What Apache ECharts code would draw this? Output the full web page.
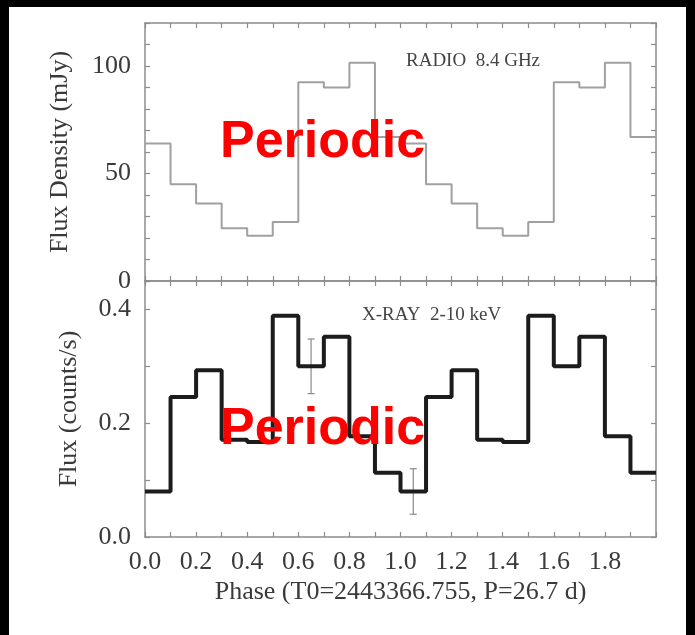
<!DOCTYPE html>
<html>
<head>
<meta charset="utf-8">
<script src="https://cdn.jsdelivr.net/npm/echarts@6/dist/echarts.min.js"></script>
<style>
  html, body { margin: 0; padding: 0; background: #000; }
  #chart { width: 695px; height: 635px; }
</style>
</head>
<body>
<div id="chart"></div>
<script>
// Phase bins (start of each 0.1-wide bin), two cycles
const phaseBins = [0.0, 0.1, 0.2, 0.3, 0.4, 0.5, 0.6, 0.7, 0.8, 0.9,
                   1.0, 1.1, 1.2, 1.3, 1.4, 1.5, 1.6, 1.7, 1.8, 1.9];
const phaseEnd = 2.0;

// Radio 8.4 GHz flux density per bin (mJy)
const radioFlux = [64, 45, 36, 24.5, 21, 27.5, 92.5, 90, 101.5, 67,
                   64, 45, 36, 24.5, 21, 27.5, 92.5, 90, 101.5, 67];

// X-ray 2-10 keV flux per bin (counts/s)
const xrayFlux = [0.080, 0.246, 0.293, 0.171, 0.167, 0.389, 0.300, 0.352, 0.177, 0.113,
                  0.080, 0.246, 0.293, 0.171, 0.167, 0.389, 0.300, 0.352, 0.177, 0.113];

// Representative error bars: [phase, value, half-width]
const xrayErrors = [[0.65, 0.300, 0.048], [1.05, 0.080, 0.040]];

// Step-histogram points: one per bin start, plus closing edge
function stepPoints(vals) {
  const pts = phaseBins.map((p, i) => [p, vals[i]]);
  pts.push([phaseEnd, vals[vals.length - 1]]);
  return pts;
}

const axisGray = '#8c8c8c';
const textGray = '#3a3a3a';
const serif = '"Liberation Serif", "DejaVu Serif", serif';

function xAx(gridIndex, position, withLabels) {
  return {
    type: 'value', gridIndex: gridIndex, position: position,
    min: 0, max: 2, interval: 0.1,
    axisLine: { show: true, onZero: false, lineStyle: { color: axisGray, width: 1.5 } },
    axisTick: { show: true, inside: true, length: 5, lineStyle: { color: axisGray, width: 1.2 } },
    splitLine: { show: false },
    axisLabel: withLabels ? {
      show: true, margin: 12, color: textGray, fontFamily: serif, fontSize: 26,
      formatter: function (v) {
        const r = Math.round(v * 10);
        return (r % 2 === 0 && r < 20) ? (r / 10).toFixed(1) : '';
      }
    } : { show: false },
    name: withLabels ? 'Phase (T0=2443366.755, P=26.7 d)' : '',
    nameLocation: 'middle', nameGap: 42,
    nameTextStyle: { color: textGray, fontFamily: serif, fontSize: 26 }
  };
}

function yAx(gridIndex, position, min, max, interval, labelFn, name, nameGap) {
  return {
    type: 'value', gridIndex: gridIndex, position: position,
    min: min, max: max, interval: interval,
    axisLine: { show: true, onZero: false, lineStyle: { color: axisGray, width: 1.5 } },
    axisTick: { show: true, inside: true, length: 5, lineStyle: { color: axisGray, width: 1.2 } },
    splitLine: { show: false },
    axisLabel: labelFn ? {
      show: true, margin: 14, color: textGray, fontFamily: serif, fontSize: 26,
      formatter: labelFn
    } : { show: false },
    name: name || '', nameLocation: 'middle', nameGap: nameGap || 0,
    nameTextStyle: { color: textGray, fontFamily: serif, fontSize: 26 }
  };
}

const radioLabel = function (v) {
  const r = Math.round(v);
  return (r % 50 === 0) ? String(r) : '';
};
const xrayLabel = function (v) {
  const r = Math.round(v * 100);
  return (r % 20 === 0 && r <= 40) ? (r / 100).toFixed(1) : '';
};

const chart = echarts.init(document.getElementById('chart'), null, { renderer: 'canvas' });

chart.setOption({
  backgroundColor: '#000',
  animation: false,
  graphic: [
    { type: 'rect', z: -10, shape: { x: 9, y: 7, width: 677, height: 628 }, style: { fill: '#fff' } },
    { type: 'text', z: 100, left: 406, top: 52,
      style: { text: 'RADIO  8.4 GHz', fill: '#444', font: '19px "Liberation Serif"' } },
    { type: 'text', z: 100, left: 362, top: 306,
      style: { text: 'X-RAY  2-10 keV', fill: '#444', font: '19px "Liberation Serif"' } },
    { type: 'text', z: 200, x: 220, y: 143,
      style: { text: 'Periodic', fill: '#ff0000', font: 'bold 52px "Liberation Sans"', verticalAlign: 'middle' } },
    { type: 'text', z: 200, x: 220, y: 430,
      style: { text: 'Periodic', fill: '#ff0000', font: 'bold 52px "Liberation Sans"', verticalAlign: 'middle' } }
  ],
  grid: [
    { left: 145, right: 39, top: 23, height: 258 },
    { left: 145, right: 39, top: 281, height: 256 }
  ],
  xAxis: [
    xAx(0, 'bottom', false),
    xAx(0, 'top', false),
    xAx(1, 'bottom', true),
    xAx(1, 'top', false)
  ],
  yAxis: [
    yAx(0, 'left', 0, 120, 10, radioLabel, 'Flux Density (mJy)', 72),
    yAx(0, 'right', 0, 120, 10, null),
    yAx(1, 'left', 0, 0.45, 0.1, xrayLabel, 'Flux (counts/s)', 63),
    yAx(1, 'right', 0, 0.45, 0.1, null)
  ],
  series: [
    {
      name: 'Radio 8.4 GHz', type: 'line', xAxisIndex: 0, yAxisIndex: 0,
      step: 'end', symbol: 'none', data: stepPoints(radioFlux),
      lineStyle: { color: '#a0a0a0', width: 2 }, z: 5
    },
    {
      name: 'X-ray error', type: 'custom', xAxisIndex: 2, yAxisIndex: 2, z: 4,
      data: xrayErrors,
      renderItem: function (params, api) {
        const x = api.value(0), y = api.value(1), e = api.value(2);
        const top = api.coord([x, y + e]);
        const bot = api.coord([x, y - e]);
        const cap = 3.5;
        const st = { stroke: '#8a8a8a', lineWidth: 1.2 };
        return {
          type: 'group',
          children: [
            { type: 'line', shape: { x1: top[0], y1: top[1], x2: bot[0], y2: bot[1] }, style: st },
            { type: 'line', shape: { x1: top[0] - cap, y1: top[1], x2: top[0] + cap, y2: top[1] }, style: st },
            { type: 'line', shape: { x1: bot[0] - cap, y1: bot[1], x2: bot[0] + cap, y2: bot[1] }, style: st }
          ]
        };
      }
    },
    {
      name: 'X-ray 2-10 keV', type: 'line', xAxisIndex: 2, yAxisIndex: 2,
      step: 'end', symbol: 'none', data: stepPoints(xrayFlux),
      lineStyle: { color: '#1c1c1c', width: 4 }, z: 6
    }
  ]
});
</script>
</body>
</html>
